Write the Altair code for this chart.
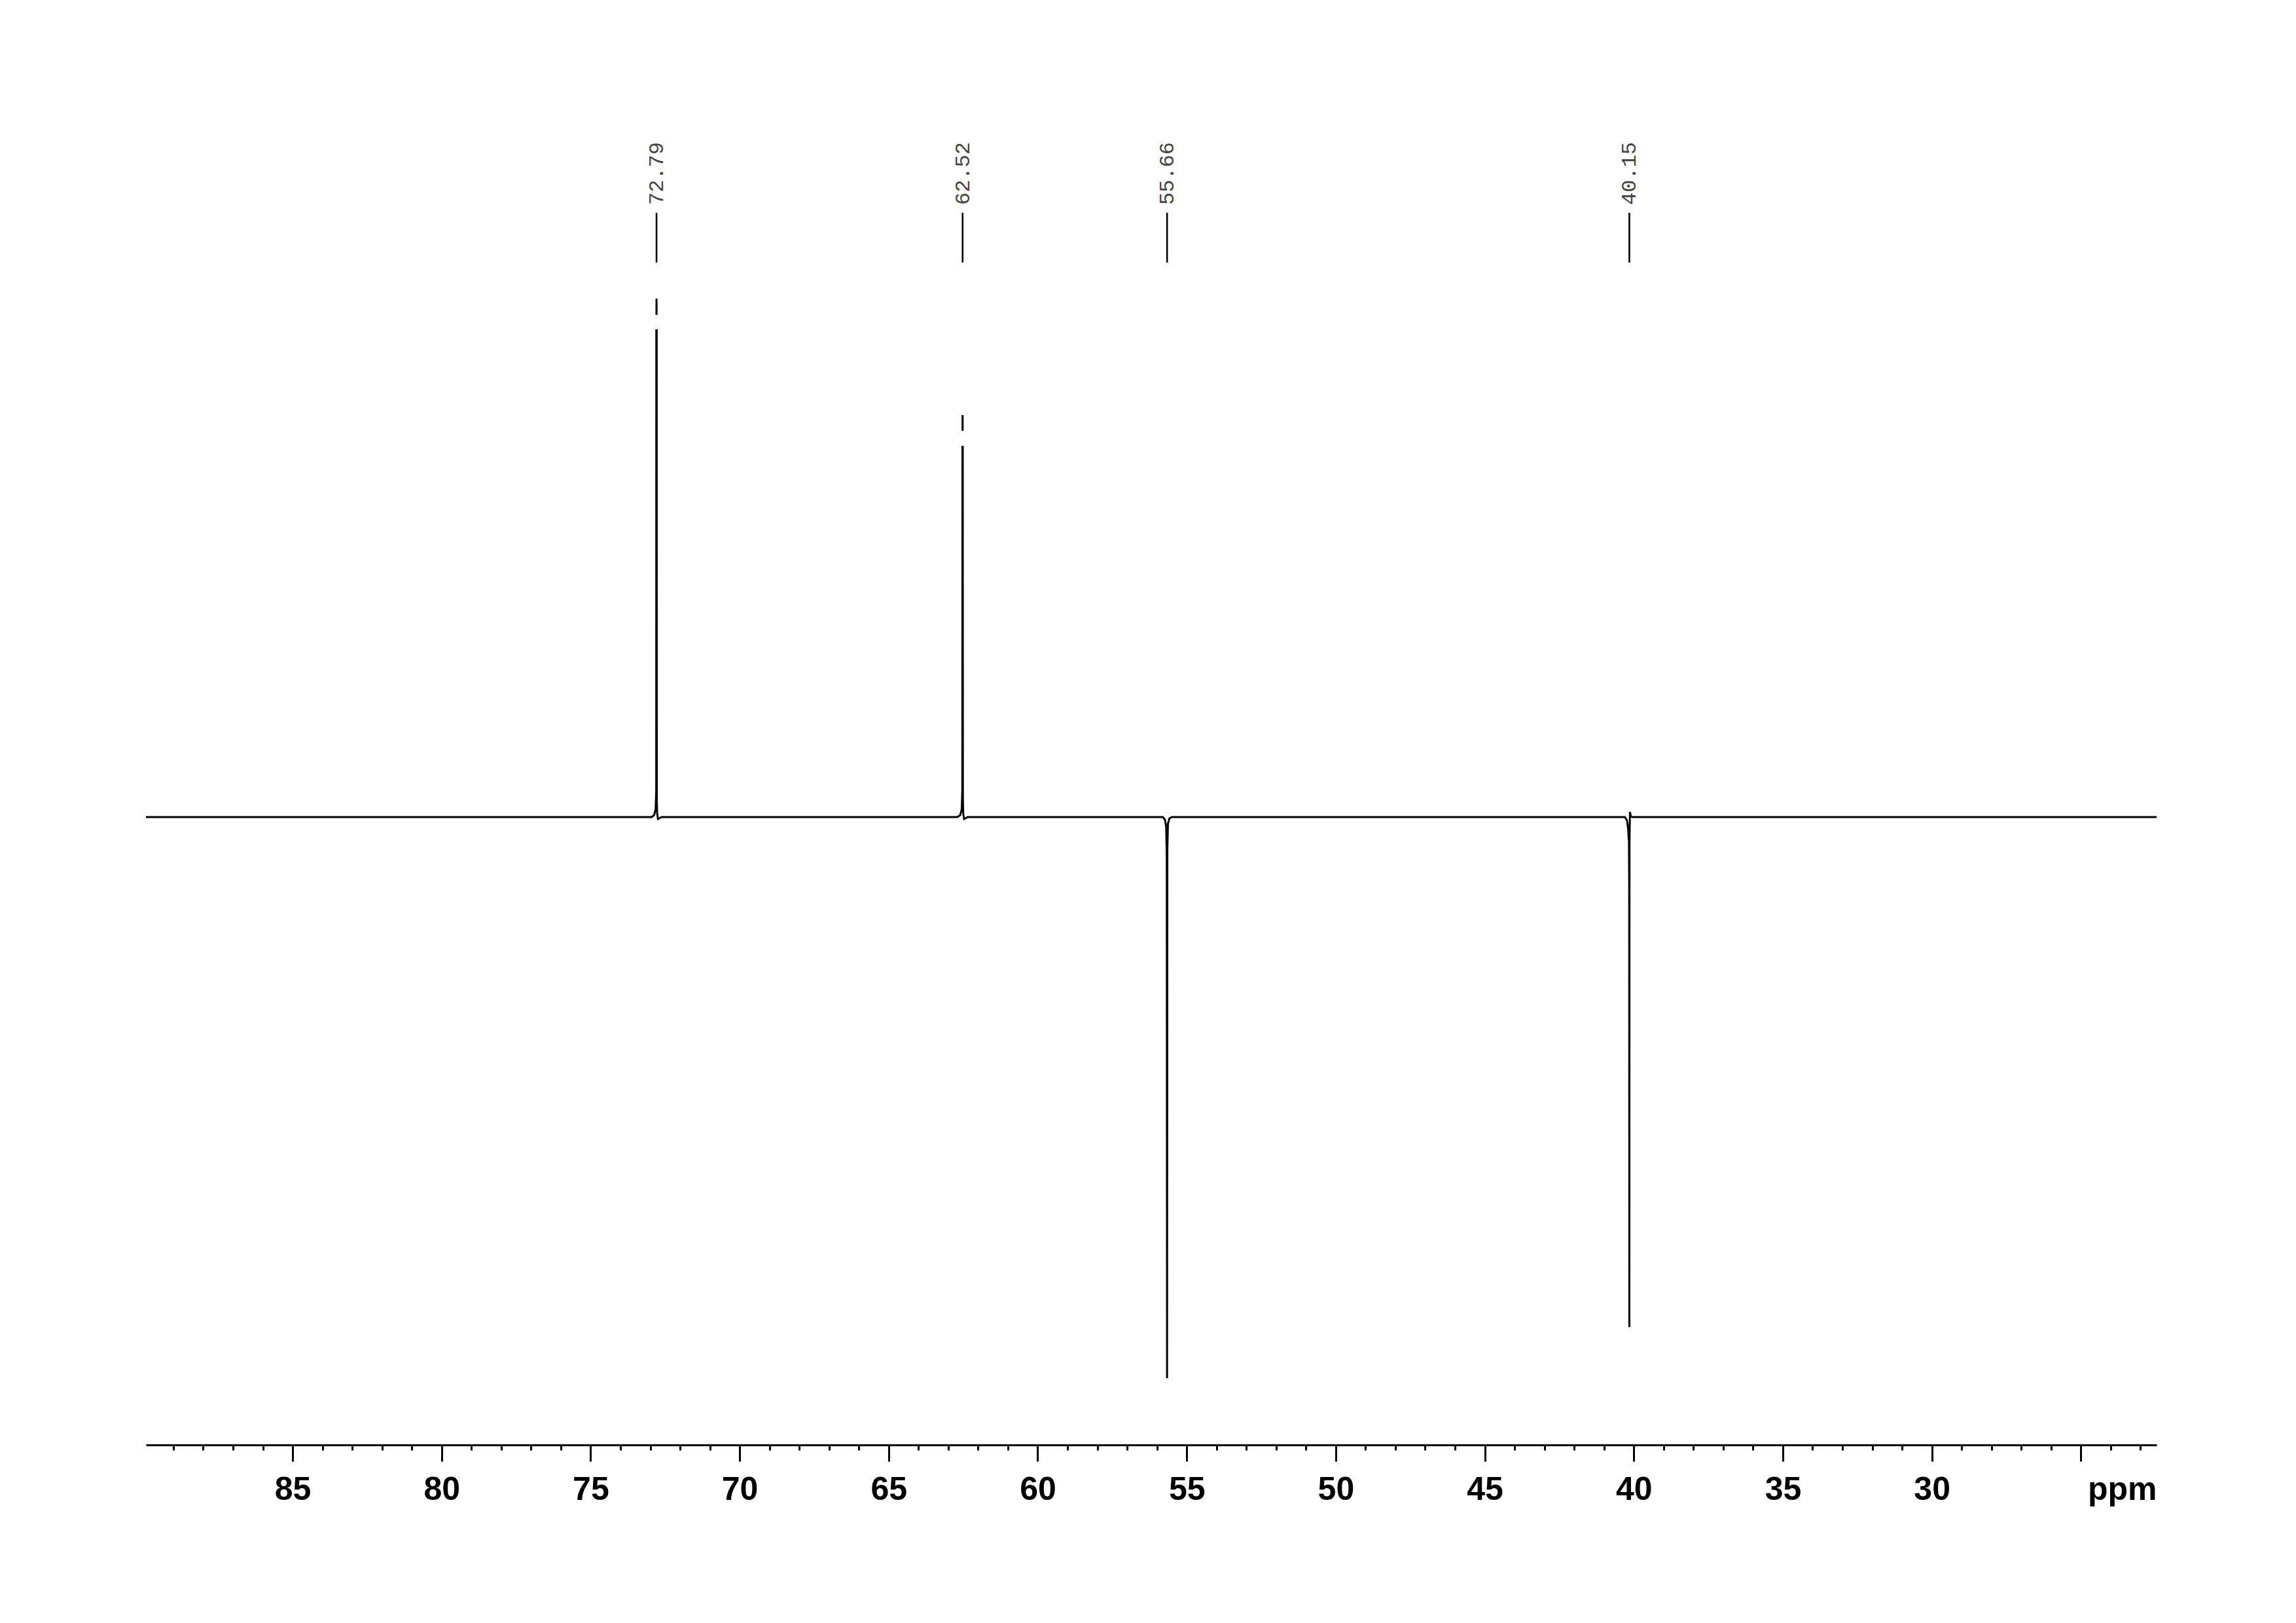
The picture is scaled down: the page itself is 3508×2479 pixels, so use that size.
import altair as alt
import pandas as pd

# ---- spectrum trace (ppm, intensity, path segment) ----
spec_ppm = [89.92, 72.95, 72.87, 72.82, 72.80, 72.795,
            72.792, 72.790, 72.788,
            72.785, 72.78, 72.77, 72.74, 72.70, 72.62, 62.70, 62.60, 62.55, 62.53, 62.525,
            62.522, 62.520, 62.518,
            62.515, 62.51, 62.50, 62.47, 62.43, 62.35,
            55.80, 55.73, 55.69, 55.67, 55.66, 55.65, 55.63, 55.58, 55.50,
            40.30, 40.23, 40.19, 40.17, 40.165, 40.155, 40.15, 40.145, 40.13, 40.10, 40.05,
            22.46]
spec_int = [0.0, 0.0, 0.3, 1.2, 4.0, 74.5,
            76.7, 79.2, 76.7,
            74.5, 3.0, 0.6, -0.3, -0.2, 0.0, 0.0, 0.3, 1.2, 4.0, 56.7,
            59.0, 61.4, 59.0,
            56.7, 3.0, 0.6, -0.3, -0.2, 0.0,
            0.0, -0.4, -1.5, -6.0, -85.7, -5.0, -1.0, -0.2, 0.0,
            0.0, -0.5, -1.8, -3.5, -2.2, -10.0, -77.9, -4.0, 0.8, 0.1, 0.0,
            0.0]
spec_seg = [0, 0, 0, 0, 0, 0,
            1, 1, 1,
            2, 2, 2, 2, 2, 2, 2, 2, 2, 2, 2,
            3, 3, 3,
            4, 4, 4, 4, 4, 4,
            4, 4, 4, 4, 4, 4, 4, 4, 4,
            4, 4, 4, 4, 4, 4, 4, 4, 4, 4, 4,
            4]

# ---- peak annotations ----
peak_ppm = [72.79, 62.52, 55.66, 40.15]
peak_labels = ["72.79", "62.52", "55.66", "40.15"]

# ---- axis ----
major_ticks = [85, 80, 75, 70, 65, 60, 55, 50, 45, 40, 35, 30, 25]
minor_ticks = list(range(23, 90))
x_lo, x_hi = 22.46, 89.92
y_lo, y_hi = -95.9, 104.0

W, H = 3072, 1999

spec_df = pd.DataFrame({"ppm": spec_ppm, "intensity": spec_int, "seg": spec_seg})
spec_df["i"] = range(len(spec_df))
peaks_df = pd.DataFrame({"ppm": peak_ppm, "label": peak_labels})
minor_df = pd.DataFrame({"ppm": minor_ticks})

xscale = alt.Scale(domain=[x_lo, x_hi], reverse=True, nice=False, zero=False)
yscale = alt.Scale(domain=[y_lo, y_hi], nice=False, zero=False)

major_axis = alt.Axis(
    values=major_ticks, orient="bottom", grid=False,
    tickSize=25, tickWidth=3, tickColor="black",
    domainColor="black", domainWidth=3,
    labelFont="Liberation Sans", labelFontSize=50, labelFontWeight="bold",
    labelColor="black", labelPadding=18, labelFlush=False, labelOverlap=False,
    labelExpr="datum.value == 25 ? '' : datum.label",
    title="ppm", titleFont="Liberation Sans", titleFontSize=50,
    titleFontWeight="bold", titleColor="black", titleAngle=0,
    titleAlign="right", titleBaseline="alphabetic", titleX=W, titleY=83,
)
minor_axis = alt.Axis(
    values=minor_ticks, orient="bottom", grid=False, labels=False,
    domain=False, tickSize=8, tickWidth=3, tickColor="black", title="",
)

minor = alt.Chart(minor_df).mark_point(opacity=0, size=0).encode(
    x=alt.X("ppm:Q", scale=xscale, axis=minor_axis),
    y=alt.value(H / 2),
)

line = alt.Chart(spec_df).mark_line(color="black", strokeWidth=3).encode(
    x=alt.X("ppm:Q", scale=xscale, axis=major_axis),
    y=alt.Y("intensity:Q", scale=yscale, axis=None),
    detail="seg:N",
    order="i:Q",
)

label_ticks = alt.Chart(peaks_df).mark_rule(color="black", strokeWidth=2.6).encode(
    x=alt.X("ppm:Q", scale=xscale, axis=None),
    y=alt.value(117),
    y2=alt.value(193),
)

label_text = alt.Chart(peaks_df).mark_text(
    angle=270, align="left", baseline="middle",
    font="Liberation Mono", fontSize=32, color="#444",
).encode(
    x=alt.X("ppm:Q", scale=xscale, axis=None),
    y=alt.value(105),
    text="label:N",
)

chart = (
    alt.layer(minor, line, label_ticks, label_text)
    .resolve_axis(x="independent")
    .properties(width=W, height=H,
                padding={"left": 209, "top": 200, "right": 180, "bottom": 80},
                background="white")
    .configure_view(stroke="transparent")
)

chart.save("out.html", embed_options={"renderer": "svg", "actions": False})
